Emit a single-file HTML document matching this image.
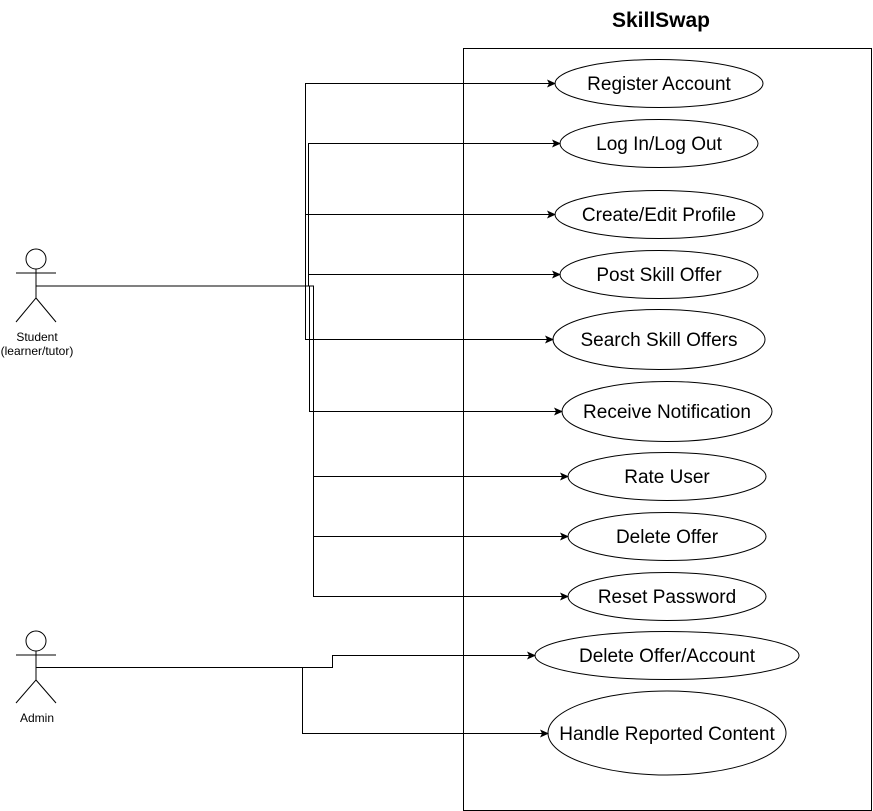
<!DOCTYPE html>
<html><head><meta charset="utf-8"><style>html,body{margin:0;padding:0;background:#fff}svg{display:block}</style></head>
<body>
<svg width="873" height="811" viewBox="0 0 873 811" xmlns="http://www.w3.org/2000/svg" font-family="Liberation Sans, sans-serif">
<defs><marker id="a" markerWidth="10" markerHeight="8" refX="8" refY="4" orient="auto" markerUnits="userSpaceOnUse"><path d="M0,0 L9,4 L0,8 L2,4 z" fill="#000"/></marker></defs>
<rect width="873" height="811" fill="#fff"/>
<text x="661" y="27" font-size="21" font-weight="bold" text-anchor="middle">SkillSwap</text>
<rect x="463.5" y="48.5" width="408" height="762" fill="none" stroke="#000"/>
<g fill="none" stroke="#000" stroke-width="1">
<circle cx="36" cy="259" r="10"/><path d="M16 273H56M36 269V298L16 322M36 298L56 322"/>
<circle cx="36" cy="641" r="10"/><path d="M16 655H56M36 651V680L16 703M36 680L56 703"/>
<g marker-end="url(#a)">
<path d="M36 286H305.5V83.5H555"/>
<path d="M36 286H308.5V143.5H560"/>
<path d="M36 286H305.5V214.5H555"/>
<path d="M36 286H308.5V274.5H560"/>
<path d="M36 286H305.5V339.5H553"/>
<path d="M36 286H309.5V411.5H562"/>
<path d="M36 286H313.5V476.5H568"/>
<path d="M36 286H313.5V536.5H568"/>
<path d="M36 286H313.5V596.5H568"/>
<path d="M36 667.5H332.5V655.5H535"/>
<path d="M36 667.5H302.5V733.5H548"/>
</g>
<ellipse cx="659" cy="83.5" rx="104" ry="24"/>
<ellipse cx="659" cy="143.5" rx="99" ry="24"/>
<ellipse cx="659" cy="214.5" rx="104" ry="24"/>
<ellipse cx="659" cy="274.5" rx="99" ry="24"/>
<ellipse cx="659" cy="339.5" rx="106" ry="30"/>
<ellipse cx="667" cy="411.5" rx="105" ry="30"/>
<ellipse cx="667" cy="476.5" rx="99" ry="24"/>
<ellipse cx="667" cy="536.5" rx="99" ry="24"/>
<ellipse cx="667" cy="596.5" rx="99" ry="24"/>
<ellipse cx="667" cy="655.5" rx="132" ry="24"/>
<ellipse cx="667" cy="733" rx="119" ry="42"/>
</g>
<g font-size="19" text-anchor="middle" fill="#000">
<text x="659" y="90">Register Account</text>
<text x="659" y="150">Log In/Log Out</text>
<text x="659" y="221">Create/Edit Profile</text>
<text x="659" y="281">Post Skill Offer</text>
<text x="659" y="346">Search Skill Offers</text>
<text x="667" y="418">Receive Notification</text>
<text x="667" y="483">Rate User</text>
<text x="667" y="543">Delete Offer</text>
<text x="667" y="603">Reset Password</text>
<text x="667" y="662">Delete Offer/Account</text>
<text x="667" y="740">Handle Reported Content</text>
</g>
<g font-size="12" text-anchor="middle" fill="#000">
<text x="37" y="341">Student</text>
<text x="37" y="355">(learner/tutor)</text>
<text x="37" y="722">Admin</text>
</g>
</svg>
</body></html>
